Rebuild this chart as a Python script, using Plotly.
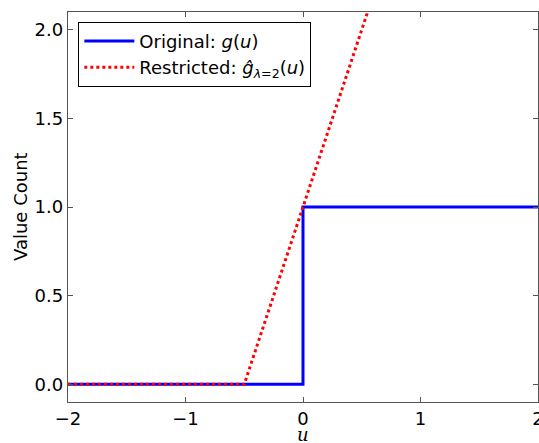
import plotly.graph_objects as go

orig_x = [-2, 0, 0, 2]
orig_y = [0, 0, 1, 1]
restr_x = [-2, -0.5, 2]
restr_y = [0, 0, 5]
x_ticks = [-2, -1, 0, 1, 2]
x_labels = ["\u22122", "\u22121", "0", "1", "2"]
y_ticks = [0.0, 0.5, 1.0, 1.5, 2.0]
y_labels = ["0.0", "0.5", "1.0", "1.5", "2.0"]

fig = go.Figure()
fig.add_trace(go.Scatter(x=orig_x, y=orig_y, mode="lines",
                         line=dict(color="#0000ff", width=3),
                         name="Original: <i>g</i>(<i>u</i>)"))
fig.add_trace(go.Scatter(x=restr_x, y=restr_y, mode="lines",
                         line=dict(color="#ff0000", width=3, dash="dot"),
                         name="Restricted: <i>\u011d</i><sub><i>\u03bb</i>=2</sub>(<i>u</i>)"))

axis_common = dict(showline=True, linecolor="#555", linewidth=1.3, mirror="ticks",
                   ticks="inside", ticklen=5, tickcolor="#555", showgrid=False,
                   zeroline=False, tickfont=dict(size=18, color="black"),
                   ticklabeloverflow="allow")
fig.update_layout(
    width=539, height=443,
    margin=dict(l=68, r=1, t=12, b=41, autoexpand=False),
    paper_bgcolor="white", plot_bgcolor="white",
    font=dict(family="DejaVu Sans", color="black"),
    showlegend=True,
    legend=dict(x=0.022, y=0.975, xanchor="left", yanchor="top",
                bordercolor="black", borderwidth=1, bgcolor="white",
                font=dict(size=18), tracegroupgap=0, itemwidth=50),
    xaxis=dict(range=[-2, 2], tickvals=x_ticks, ticktext=x_labels, **axis_common),
    yaxis=dict(range=[-0.1, 2.1], tickvals=y_ticks, ticktext=y_labels, **axis_common),
    annotations=[
        dict(text="<i>u</i>", xref="paper", yref="paper", x=0.5, y=0, yshift=-32,
             xanchor="center", yanchor="middle", showarrow=False,
             font=dict(size=18, family="DejaVu Serif")),
        dict(text="Value Count", xref="paper", yref="paper", x=0, y=0.5, xshift=-48,
             xanchor="center", yanchor="middle", textangle=-90, showarrow=False,
             font=dict(size=18)),
    ],
)
fig.write_html("out.html", config={"displayModeBar": False},
               post_script="document.body.style.margin='0';document.body.style.overflow='hidden';")
